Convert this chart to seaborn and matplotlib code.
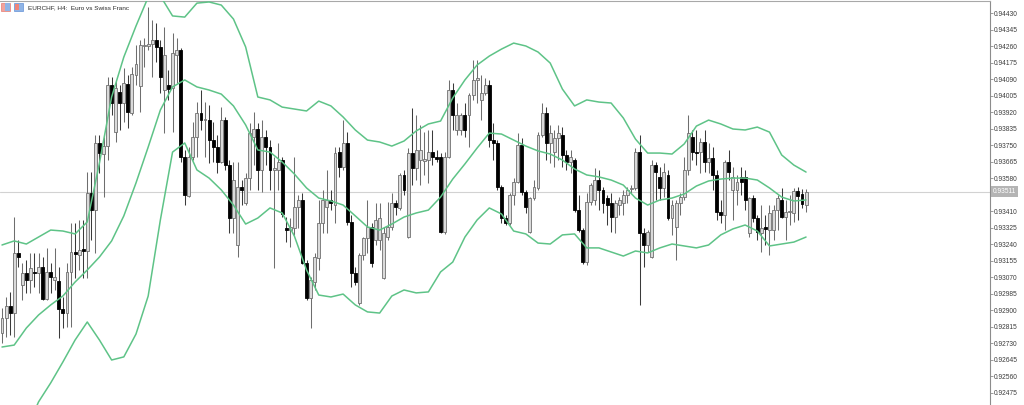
import matplotlib
matplotlib.use('Agg')
import matplotlib.pyplot as plt
from matplotlib.patches import Rectangle
import numpy as np
import pandas as pd
import seaborn as sns

# EURCHF H4 candles
open_ = [
    0.92782, 0.92860, 0.92922, 0.92885, 0.93195, 0.93030, 0.93092, 0.93056, 0.93097, 0.93092,
    0.93123, 0.92958, 0.93097, 0.93056, 0.93050, 0.92906, 0.92885, 0.93097, 0.93200, 0.93184,
    0.93215, 0.93205, 0.93504, 0.93416, 0.93762, 0.93705, 0.93746, 0.94061, 0.93818, 0.94025,
    0.93968, 0.94066, 0.93916, 0.94112, 0.94056, 0.94262, 0.94262, 0.94272, 0.94293, 0.94257,
    0.94035, 0.94061, 0.94045, 0.94215, 0.94241, 0.93690, 0.93489, 0.93690, 0.93793, 0.93916,
    0.93880, 0.93880, 0.93777, 0.93741, 0.93664, 0.93880, 0.93648, 0.93375, 0.93236, 0.93535,
    0.93453, 0.93581, 0.93793, 0.93834, 0.93623, 0.93793, 0.93741, 0.93623, 0.93623, 0.93674,
    0.93324, 0.93313, 0.93324, 0.93432, 0.93468, 0.93143, 0.92963, 0.93045, 0.93169, 0.93349,
    0.93432, 0.93468, 0.93442, 0.93715, 0.93638, 0.93762, 0.93355, 0.93092, 0.92937, 0.93184,
    0.93272, 0.93329, 0.93262, 0.93262, 0.93066, 0.93277, 0.93329, 0.93453, 0.93427, 0.93597,
    0.93277, 0.93710, 0.93633, 0.93674, 0.93669, 0.93674, 0.93715, 0.93690, 0.93690, 0.93303,
    0.93690, 0.94035, 0.93829, 0.93829, 0.93906, 0.93906, 0.94009, 0.94087, 0.93984, 0.94020,
    0.94061, 0.93777, 0.93762, 0.93535, 0.93375, 0.93349, 0.93494, 0.93561, 0.93751, 0.93509,
    0.93303, 0.93478, 0.93530, 0.93803, 0.93916, 0.93762, 0.93715, 0.93788, 0.93803, 0.93700,
    0.93664, 0.93674, 0.93416, 0.93313, 0.93148, 0.93458, 0.93468, 0.93571, 0.93520, 0.93478,
    0.93453, 0.93380, 0.93442, 0.93453, 0.93494, 0.93525, 0.93530, 0.93715, 0.93298, 0.93236,
    0.93174, 0.93648, 0.93587, 0.93530, 0.93597, 0.93375, 0.93329, 0.93453, 0.93483, 0.93623,
    0.93793, 0.93715, 0.93715, 0.93767, 0.93664, 0.93685, 0.93597, 0.93406, 0.93391, 0.93664,
    0.93520, 0.93520, 0.93587, 0.93587, 0.93298, 0.93478, 0.93375, 0.93298, 0.93329, 0.93313,
    0.93313, 0.93416, 0.93468, 0.93380, 0.93406, 0.93401, 0.93514, 0.93499, 0.93442,
]
high = [
    0.92911, 0.92968, 0.92994, 0.93380, 0.93262, 0.93143, 0.93159, 0.93195, 0.93195, 0.93195,
    0.93174, 0.93221, 0.93143, 0.93221, 0.93123, 0.92968, 0.93143, 0.93349, 0.93349, 0.93365,
    0.93365, 0.93612, 0.93612, 0.93803, 0.93803, 0.93793, 0.94102, 0.94102, 0.94087, 0.94061,
    0.94148, 0.94112, 0.94154, 0.94267, 0.94293, 0.94303, 0.94463, 0.94396, 0.94380, 0.94293,
    0.94360, 0.94138, 0.94329, 0.94303, 0.94252, 0.93726, 0.93741, 0.93870, 0.93973, 0.94035,
    0.93973, 0.93958, 0.93870, 0.93803, 0.93947, 0.93896, 0.93674, 0.93664, 0.93664, 0.93571,
    0.93607, 0.93865, 0.93922, 0.93865, 0.93880, 0.93829, 0.93777, 0.93690, 0.93762, 0.93690,
    0.93380, 0.93375, 0.93690, 0.93494, 0.93504, 0.93159, 0.93071, 0.93195, 0.93468, 0.93520,
    0.93623, 0.93520, 0.93741, 0.93741, 0.93880, 0.93818, 0.93391, 0.93123, 0.93195, 0.93277,
    0.93468, 0.93349, 0.93453, 0.93453, 0.93329, 0.93458, 0.93504, 0.93468, 0.93607, 0.93623,
    0.93736, 0.93942, 0.93906, 0.93855, 0.93818, 0.93829, 0.93829, 0.93726, 0.93710, 0.93715,
    0.94087, 0.94071, 0.93968, 0.93916, 0.93968, 0.94020, 0.94190, 0.94190, 0.94112, 0.94097,
    0.94087, 0.93865, 0.93777, 0.93545, 0.93391, 0.93504, 0.93581, 0.93813, 0.93788, 0.93520,
    0.93483, 0.93571, 0.93818, 0.93968, 0.93947, 0.93855, 0.93829, 0.93855, 0.93844, 0.93726,
    0.93726, 0.93685, 0.93494, 0.93324, 0.93504, 0.93556, 0.93633, 0.93623, 0.93535, 0.93494,
    0.93504, 0.93468, 0.93483, 0.93520, 0.93535, 0.93545, 0.93736, 0.93803, 0.93324, 0.93313,
    0.93674, 0.93664, 0.93638, 0.93659, 0.93623, 0.93468, 0.93468, 0.93504, 0.93690, 0.93906,
    0.93829, 0.93829, 0.93788, 0.93829, 0.93762, 0.93741, 0.93623, 0.93468, 0.93674, 0.93726,
    0.93638, 0.93597, 0.93638, 0.93623, 0.93483, 0.93494, 0.93391, 0.93442, 0.93391, 0.93442,
    0.93442, 0.93494, 0.93530, 0.93468, 0.93494, 0.93530, 0.93535, 0.93525, 0.93525,
]
low = [
    0.92731, 0.92762, 0.92772, 0.92762, 0.93123, 0.92953, 0.92989, 0.92989, 0.93020, 0.92989,
    0.92953, 0.92953, 0.92989, 0.93004, 0.92757, 0.92808, 0.92813, 0.92813, 0.93066, 0.93107,
    0.93066, 0.93066, 0.93262, 0.93195, 0.93607, 0.93483, 0.93674, 0.93906, 0.93767, 0.93829,
    0.93870, 0.93839, 0.93906, 0.94061, 0.93922, 0.94154, 0.94241, 0.94102, 0.94179, 0.94020,
    0.93813, 0.93984, 0.93818, 0.94071, 0.93664, 0.93442, 0.93483, 0.93674, 0.93690, 0.93829,
    0.93690, 0.93659, 0.93664, 0.93607, 0.93659, 0.93623, 0.93298, 0.93298, 0.93174, 0.93442,
    0.93442, 0.93520, 0.93648, 0.93520, 0.93509, 0.93648, 0.93520, 0.93117, 0.93520, 0.93380,
    0.93251, 0.93226, 0.93288, 0.93324, 0.93138, 0.92953, 0.92808, 0.93004, 0.93107, 0.93298,
    0.93298, 0.93416, 0.93349, 0.93587, 0.93623, 0.93339, 0.93020, 0.93030, 0.92927, 0.93159,
    0.93195, 0.93123, 0.93236, 0.93210, 0.93061, 0.93262, 0.93313, 0.93391, 0.93416, 0.93494,
    0.93272, 0.93545, 0.93571, 0.93545, 0.93597, 0.93556, 0.93648, 0.93664, 0.93298, 0.93293,
    0.93685, 0.93829, 0.93803, 0.93803, 0.93793, 0.93741, 0.93984, 0.93968, 0.93880, 0.94009,
    0.93741, 0.93674, 0.93520, 0.93349, 0.93339, 0.93339, 0.93442, 0.93556, 0.93494, 0.93401,
    0.93298, 0.93468, 0.93520, 0.93793, 0.93674, 0.93659, 0.93638, 0.93674, 0.93638, 0.93623,
    0.93607, 0.93406, 0.93303, 0.93138, 0.93133, 0.93442, 0.93442, 0.93416, 0.93401, 0.93339,
    0.93303, 0.93298, 0.93391, 0.93391, 0.93453, 0.93504, 0.93520, 0.92927, 0.93123, 0.93200,
    0.93169, 0.93468, 0.93468, 0.93483, 0.93365, 0.93288, 0.93159, 0.93391, 0.93468, 0.93597,
    0.93674, 0.93648, 0.93607, 0.93612, 0.93607, 0.93520, 0.93365, 0.93349, 0.93313, 0.93571,
    0.93365, 0.93442, 0.93494, 0.93416, 0.93277, 0.93355, 0.93262, 0.93200, 0.93236, 0.93184,
    0.93262, 0.93313, 0.93375, 0.93262, 0.93339, 0.93355, 0.93365, 0.93427, 0.93406,
]
close = [
    0.92860, 0.92922, 0.92885, 0.93195, 0.93174, 0.93092, 0.93056, 0.93117, 0.93092, 0.93123,
    0.92958, 0.93097, 0.93071, 0.93071, 0.92906, 0.92885, 0.93097, 0.93200, 0.93190, 0.93210,
    0.93205, 0.93504, 0.93416, 0.93762, 0.93710, 0.93746, 0.94061, 0.93968, 0.94045, 0.93968,
    0.94071, 0.93922, 0.94117, 0.94169, 0.94267, 0.94267, 0.94272, 0.94293, 0.94257, 0.94102,
    0.94215, 0.94040, 0.94226, 0.94241, 0.93690, 0.93494, 0.93690, 0.93793, 0.93916, 0.93880,
    0.93886, 0.93777, 0.93741, 0.93664, 0.93880, 0.93648, 0.93375, 0.93571, 0.93535, 0.93520,
    0.93581, 0.93813, 0.93834, 0.93623, 0.93793, 0.93741, 0.93623, 0.93633, 0.93664, 0.93396,
    0.93313, 0.93329, 0.93432, 0.93468, 0.93143, 0.92963, 0.93056, 0.93174, 0.93349, 0.93468,
    0.93468, 0.93453, 0.93710, 0.93638, 0.93762, 0.93355, 0.93092, 0.93045, 0.93184, 0.93272,
    0.93329, 0.93143, 0.93365, 0.93375, 0.93298, 0.93329, 0.93453, 0.93432, 0.93597, 0.93520,
    0.93710, 0.93633, 0.93726, 0.93726, 0.93679, 0.93715, 0.93690, 0.93679, 0.93303, 0.93690,
    0.94035, 0.93906, 0.93906, 0.93906, 0.93829, 0.94009, 0.94087, 0.94097, 0.94020, 0.94061,
    0.93777, 0.93762, 0.93535, 0.93375, 0.93349, 0.93494, 0.93561, 0.93751, 0.93509, 0.93432,
    0.93478, 0.93535, 0.93803, 0.93916, 0.93762, 0.93813, 0.93788, 0.93813, 0.93700, 0.93664,
    0.93690, 0.93416, 0.93313, 0.93148, 0.93458, 0.93545, 0.93571, 0.93520, 0.93453, 0.93442,
    0.93380, 0.93453, 0.93468, 0.93494, 0.93520, 0.93530, 0.93715, 0.93298, 0.93236, 0.93303,
    0.93648, 0.93612, 0.93530, 0.93612, 0.93375, 0.93442, 0.93453, 0.93483, 0.93623, 0.93813,
    0.93715, 0.93710, 0.93767, 0.93664, 0.93685, 0.93597, 0.93406, 0.93391, 0.93664, 0.93612,
    0.93587, 0.93561, 0.93561, 0.93468, 0.93478, 0.93375, 0.93303, 0.93324, 0.93319, 0.93401,
    0.93416, 0.93478, 0.93380, 0.93406, 0.93411, 0.93514, 0.93489, 0.93447, 0.93511,
]

# Bollinger bands, read every third bar
band_idx = list(range(0, 199, 3))
upper = [
    0.93236, 0.93257, 0.93241, 0.93277, 0.93313, 0.93308, 0.93293, 0.93355, 0.93659, 0.93999,
    0.94205, 0.94365, 0.94514, 0.94520, 0.94417, 0.94411, 0.94483, 0.94489, 0.94473, 0.94401,
    0.94257, 0.93999, 0.93984, 0.93947, 0.93937, 0.93927, 0.93978, 0.93953, 0.93896, 0.93829,
    0.93777, 0.93767, 0.93746, 0.93772, 0.93824, 0.93860, 0.93875, 0.93994, 0.94087, 0.94164,
    0.94210, 0.94246, 0.94277, 0.94262, 0.94231, 0.94174, 0.94040, 0.93953, 0.93984, 0.93973,
    0.93968, 0.93891, 0.93782, 0.93710, 0.93710, 0.93705, 0.93757, 0.93849, 0.93880, 0.93860,
    0.93834, 0.93829, 0.93844, 0.93818, 0.93700, 0.93648, 0.93612,
]
middle = [
    0.92710, 0.92720, 0.92808, 0.92875, 0.92927, 0.92973, 0.93045, 0.93107, 0.93174, 0.93257,
    0.93386, 0.93556, 0.93741, 0.93932, 0.94051, 0.94087, 0.94051, 0.94035, 0.94014, 0.93953,
    0.93855, 0.93726, 0.93715, 0.93664, 0.93602, 0.93530, 0.93478, 0.93463, 0.93442, 0.93386,
    0.93329, 0.93313, 0.93344, 0.93380, 0.93401, 0.93416, 0.93483, 0.93576, 0.93654, 0.93736,
    0.93813, 0.93808, 0.93777, 0.93746, 0.93721, 0.93705, 0.93674, 0.93628, 0.93597, 0.93587,
    0.93571, 0.93545, 0.93478, 0.93442, 0.93468, 0.93478, 0.93499, 0.93540, 0.93566, 0.93576,
    0.93581, 0.93581, 0.93571, 0.93530, 0.93483, 0.93463, 0.93468,
]
lower = [
    0.92087, 0.92190, 0.92282, 0.92427, 0.92525, 0.92633, 0.92746, 0.92839, 0.92746, 0.92643,
    0.92659, 0.92777, 0.92973, 0.93365, 0.93715, 0.93762, 0.93623, 0.93581, 0.93520, 0.93442,
    0.93344, 0.93375, 0.93427, 0.93401, 0.93282, 0.93107, 0.92978, 0.92968, 0.92983, 0.92927,
    0.92891, 0.92885, 0.92973, 0.93004, 0.92989, 0.92994, 0.93097, 0.93148, 0.93277, 0.93365,
    0.93427, 0.93396, 0.93308, 0.93293, 0.93246, 0.93241, 0.93288, 0.93293, 0.93221, 0.93221,
    0.93200, 0.93179, 0.93205, 0.93195, 0.93221, 0.93241, 0.93231, 0.93221, 0.93236, 0.93288,
    0.93319, 0.93339, 0.93308, 0.93231, 0.93241, 0.93251, 0.93277,
]

price_ticks = [0.94430, 0.94345, 0.94260, 0.94175, 0.94090, 0.94005, 0.93920, 0.93835,
               0.93750, 0.93665, 0.93580, 0.93495, 0.93410, 0.93325, 0.93240, 0.93155,
               0.93070, 0.92985, 0.92900, 0.92815, 0.92730, 0.92645, 0.92560, 0.92475]
title = "EURCHF, H4:  Euro vs Swiss Franc"

sns.set_theme(style='white')
plt.rcParams['font.family'] = ['Liberation Sans', 'DejaVu Sans']

df = pd.DataFrame({'open': open_, 'high': high, 'low': low, 'close': close})
df['idx'] = np.arange(len(df))
bands = pd.DataFrame({'idx': band_idx, 'upper': upper, 'middle': middle, 'lower': lower})

fig = plt.figure(figsize=(10.24, 4.05), dpi=100)
ax = fig.add_axes([0, 0, 990 / 1024, 1 - 1 / 405])

green = '#5ec387'
for col in ['upper', 'middle', 'lower']:
    sns.lineplot(data=bands, x='idx', y=col, ax=ax, color=green, linewidth=1.1, zorder=4)

# candles
up = df['close'] >= df['open']
dn = ~up
min_h = 0.000018
body = (df['close'] - df['open']).abs().clip(lower=min_h)
bottom = df[['open', 'close']].min(axis=1)

ax.vlines(df['idx'][up], df['low'][up], df['high'][up], colors='#6e6e6e', linewidth=0.75, zorder=2)
ax.vlines(df['idx'][dn], df['low'][dn], df['high'][dn], colors='#3a3a3a', linewidth=0.75, zorder=2)
ax.bar(df['idx'][up], body[up], bottom=bottom[up], width=0.72,
       color='#dadada', edgecolor='#707070', linewidth=0.6, zorder=3)
ax.bar(df['idx'][dn], body[dn], bottom=bottom[dn], width=0.72,
       color='#000000', edgecolor='#000000', linewidth=0.6, zorder=3)

# current bid line
last = close[-1]
ax.axhline(last, color='#d2d2d2', linewidth=0.8, zorder=1)

ax.set_xlim(-0.49, 243.3)
ax.set_ylim(0.92411, 0.94494)
ax.set_xlabel('')
ax.set_ylabel('')
ax.set_xticks([])
ax.yaxis.tick_right()
ax.set_yticks(price_ticks)
ax.set_yticklabels([f"{t:.5f}" for t in price_ticks])
ax.tick_params(axis='y', which='both', right=True, left=False, direction='out',
               length=2.2, width=0.6, color='#8c8c8c', pad=0.6,
               labelsize=4.8, labelcolor='#3c3c3c')
for s in ['left', 'bottom']:
    ax.spines[s].set_visible(False)
ax.spines['right'].set_color('#8c8c8c')
ax.spines['right'].set_linewidth(0.8)
ax.spines['top'].set_color('#a8a8a8')
ax.spines['top'].set_linewidth(0.8)
ax.grid(False)

ax.annotate(f"{last:.5f}", xy=(1.0, last), xycoords=('axes fraction', 'data'),
            xytext=(2.2, 0), textcoords='offset points', ha='left', va='center',
            fontsize=4.8, color='white', annotation_clip=False,
            bbox=dict(boxstyle='square,pad=0.25', fc='#b4b4b4', ec='none'))

# header with the two little chart icons
W, H = 1024, 405
fig.add_artist(Rectangle((1 / W, 1 - 11 / H), 9 / W, 8 / H, transform=fig.transFigure,
                         fc='#f2a39c', ec='#e0675c', lw=0.4))
fig.add_artist(Rectangle((5 / W, 1 - 11 / H), 5 / W, 8 / H, transform=fig.transFigure,
                         fc='#8fb4e6', ec='none'))
fig.add_artist(Rectangle((14 / W, 1 - 11 / H), 9 / W, 8 / H, transform=fig.transFigure,
                         fc='#8fb4e6', ec='#4a7fcf', lw=0.4))
fig.add_artist(Rectangle((15 / W, 1 - 10 / H), 4 / W, 6 / H, transform=fig.transFigure,
                         fc='#f0857a', ec='none'))
fig.text(28 / W, 1 - 7.5 / H, title, fontsize=4.6, color='#2a2a2a', va='center', ha='left')

fig.savefig('out.png', dpi=100)
